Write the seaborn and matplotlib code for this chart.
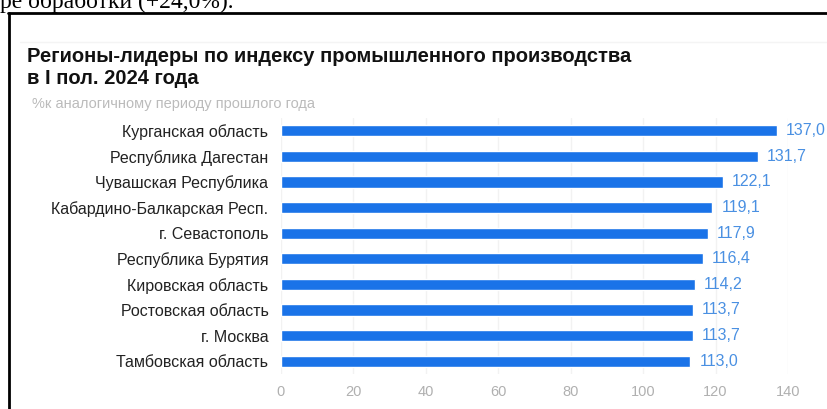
import seaborn as sns
import matplotlib.pyplot as plt
import pandas as pd
from matplotlib.lines import Line2D

# Данные
regioni = ["Курганская область", "Республика Дагестан", "Чувашская Республика",
           "Кабардино-Балкарская Респ.", "г. Севастополь", "Республика Бурятия",
           "Кировская область", "Ростовская область", "г. Москва", "Тамбовская область"]
valori = [137.0, 131.7, 122.1, 119.1, 117.9, 116.4, 114.2, 113.7, 113.7, 113.0]
tick_x = [0, 20, 40, 60, 80, 100, 120, 140]

df = pd.DataFrame({"regione": regioni, "valore": valori})

sns.set_theme(style="white")
plt.rcParams['font.family'] = ['Liberation Sans', 'DejaVu Sans']

fig = plt.figure(figsize=(8.28, 4.09), dpi=100)
ax = fig.add_axes([281 / 828, 1 - 374 / 409, 507 / 828, 256 / 409])

sns.barplot(data=df, x="valore", y="regione", orient="h", color="#1a73e8",
            saturation=1, width=0.43, ax=ax)

for i, v in enumerate(valori):
    ax.text(v + 2.5, i, f"{v:.1f}".replace(".", ","), va="center", ha="left",
            color="#4a90e2", fontsize=11.5, clip_on=False)

ax.set_xlim(0, 140)
ax.set_ylim(9.5, -0.5)
ax.set_xticks(tick_x)
ax.set_xlabel("")
ax.set_ylabel("")
ax.grid(axis="x", color="#f2f2f2", linewidth=1)
ax.set_axisbelow(True)
for s in ax.spines.values():
    s.set_visible(False)
ax.tick_params(axis="x", length=0, pad=8, labelsize=10.5, labelcolor="#b0b0b0")
ax.tick_params(axis="y", length=0, pad=9, labelsize=11.5, labelcolor="#222222")

# Заголовок и подзаголовок
fig.text(27 / 828, 1 - 57 / 409, "Регионы-лидеры по индексу промышленного производства",
         fontsize=14.5, fontweight="bold", color="#111111", va="center", ha="left")
fig.text(27 / 828, 1 - 79 / 409, "в I пол. 2024 года",
         fontsize=14.5, fontweight="bold", color="#111111", va="center", ha="left")
fig.text(32 / 828, 1 - 104 / 409, "%к аналогичному периоду прошлого года",
         fontsize=10.5, color="#bbbbbb", va="center", ha="left")

# Обрезанный текст документа и рамка
fig.text(0, 1 - 8 / 409, "ре обработки (+24,0%).", family="Liberation Serif",
         fontsize=17, color="black", va="baseline", ha="left")
fig.add_artist(Line2D([9 / 828, 9 / 828], [0, 1 - 12.5 / 409], color="black",
                      linewidth=2, transform=fig.transFigure))
fig.add_artist(Line2D([8 / 828, 1], [1 - 12.5 / 409, 1 - 12.5 / 409], color="black",
                      linewidth=2, transform=fig.transFigure))
fig.add_artist(Line2D([20 / 828, 1], [1 - 42 / 409, 1 - 42 / 409], color="#f4f4f4",
                      linewidth=1, transform=fig.transFigure))

fig.savefig("out.png", dpi=100)
